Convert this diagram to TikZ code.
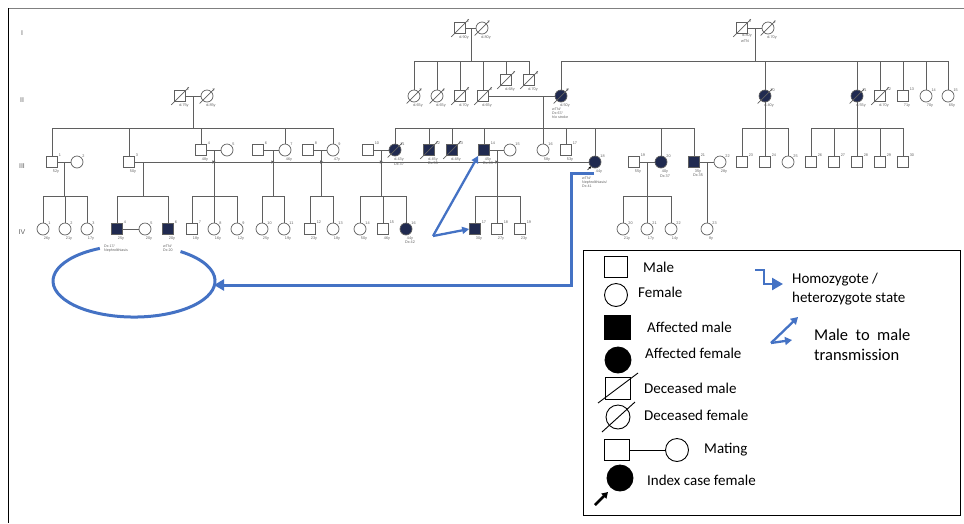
\documentclass[tikz,border=0pt]{standalone}
\usepackage{fontspec}
\setmainfont{Liberation Sans}
\newfontfamily\legfont{Carlito}
\usetikzlibrary{arrows.meta,calc}
\definecolor{affc}{RGB}{32,42,80}
\definecolor{pblue}{RGB}{68,114,196}
\definecolor{pline}{RGB}{95,95,95}
\tikzset{
 male/.style={rectangle, draw=pline, line width=0.7, minimum size=11, inner sep=0, fill=white},
 female/.style={circle, draw=pline, line width=0.7, minimum size=12, inner sep=0, fill=white},
 affected/.style={fill=affc},
 pl/.style={draw=pline, line width=0.7},
 numlbl/.style={font=\fontsize{3.8}{4}\selectfont, text=pline, inner sep=0},
 agelbl/.style={font=\fontsize{3.8}{4.3}\selectfont, text=pline, inner sep=0, align=center},
 extlbl/.style={font=\fontsize{3.6}{4}\selectfont, text=pline, inner sep=0, align=left, anchor=north west},
 genlbl/.style={font=\fontsize{7}{8}\selectfont, text=pline},
 bluearrow/.style={draw=pblue, line width=3, -{Triangle[length=10,width=11]}},
 bluethin/.style={draw=pblue, line width=2.3, -{Triangle[length=7,width=7]}},
 legtext/.style={font=\legfont\fontsize{15}{18}\selectfont, anchor=west, inner sep=0, align=left},
 legm/.style={rectangle, draw=black, line width=0.9, inner sep=0},
 legf/.style={circle, draw=black, line width=0.9, inner sep=0},
}
\newcommand{\person}[6]{%
 \node[#2] (#1) at (#3,#4) {};
 \node[numlbl, anchor=south west] at ($(#1.north east)+(0.8,0.5)$) {#5};
 \node[agelbl, anchor=north] at ($(#1.south)+(4,1.5)$) {#6};
}
\newcommand{\deceased}[1]{\draw[pl] ($(#1.south west)+(-3,3)$) -- ($(#1.north east)+(3,-3)$);}
\newcommand{\hopmark}[1]{\fill[pline] ($(#1)+(-1.6,-1.6)$) -- ($(#1)+(1.6,0)$) -- ($(#1)+(-1.6,1.6)$) -- cycle;}
\begin{document}
\begin{tikzpicture}[x=1pt,y=-1pt]
\useasboundingbox (0,0) rectangle (964,523);
\draw[gray, line width=1] (8,8) -- (964,8);
\draw[black, line width=1] (8,8) -- (8,523);

% generation labels
\node[genlbl] (gI) at (22,33) {I};
\node[genlbl] (gII) at (22,100) {II};
\node[genlbl] (gIII) at (22,166) {III};
\node[genlbl] (gIV) at (22,232) {IV};

% ---------------- Generation I
\person{I1}{male}{460}{28}{1}{d.90y}
\person{I2}{female}{482}{28}{2}{d.80y}
\node[agelbl, anchor=north] (I3a) at (747,33.5) {d.80y};
\node[agelbl, anchor=north] (I3b) at (745,40) {wTN};
\node[male] (I3) at (742,28) {};
\node[numlbl, anchor=south west] at ($(I3.north east)+(0.8,0.5)$) {3};
\person{I4}{female}{768}{28}{4}{d.70y}
\foreach \n in {I1,I2,I3,I4} {\deceased{\n}}

% ---------------- Generation II
\person{II1}{male}{180}{96}{1}{d.75y}
\person{II2}{female}{207}{96}{2}{d.85y}
\person{II3}{female}{414}{96}{3}{d.65y}
\person{II4}{female}{437}{96}{4}{d.65y}
\person{II5}{male}{460}{96}{5}{d.70y}
\person{II6}{male}{483}{96}{6}{d.65y}
\person{II7}{male}{506}{80}{7}{d.68y}
\person{II8}{male}{529}{80}{8}{d.70y}
\person{II9}{female,affected}{561}{96}{9}{d.50y}
\node[extlbl] (II9x) at (552,108) {wTN/\\Dx 67/\\h/o stroke};
\person{II10}{female,affected}{765}{96}{10}{d.40y}
\person{II11}{female,affected}{857}{96}{11}{d.55y}
\person{II12}{male}{880}{96}{12}{d.70y}
\person{II13}{male}{903}{96}{13}{71y}
\person{II14}{female}{926}{96}{14}{70y}
\person{II15}{female}{948}{96}{15}{65y}
\foreach \n in {II1,II2,II3,II4,II5,II6,II7,II8,II9,II10,II11,II12} {\deceased{\n}}

% ---------------- Generation III
\person{III1}{male}{52}{162}{1}{52y}
\person{III2}{female}{77}{162}{2}{}
\person{III3}{male}{129}{162}{3}{50y}
\person{III4}{male}{201}{150}{4}{48y}
\person{III5}{female}{227}{150}{5}{}
\person{III6}{male}{258}{150}{6}{}
\person{III7}{female}{285}{150}{7}{46y}
\person{III8}{male}{308}{150}{8}{}
\person{III9}{female}{333}{150}{9}{47y}
\person{III10}{male}{368}{150}{10}{}
\person{III11}{female,affected}{395}{150}{11}{d.43y\\Dx 37}
\person{III12}{male,affected}{429}{150}{12}{d.45y\\Dx 55}
\person{III13}{male,affected}{452}{150}{13}{d.48y}
\person{III14}{male,affected}{484}{150}{14}{45y\\Dx 63}
\person{III15}{female}{510}{150}{15}{}
\person{III16}{female}{543}{150}{16}{58y}
\person{III17}{male}{566}{150}{17}{53y}
\person{III18}{female,affected}{595}{162}{18}{44y}
\node[extlbl] (III18x) at (582,176.5) {wTN/\\Nephrolithiasis/\\Dx 41};
\person{III19}{male}{634}{162}{19}{55y}
\person{III20}{female,affected}{661}{162}{20}{40y\\Dx 37}
\person{III21}{male,affected}{694}{162}{21}{35y\\Dx 35}
\person{III22}{female}{720}{162}{22}{28y}
\person{III23}{male}{742}{162}{23}{}
\person{III24}{male}{765}{162}{24}{}
\person{III25}{female}{788}{162}{25}{}
\person{III26}{male}{811}{162}{26}{}
\person{III27}{male}{834}{162}{27}{}
\person{III28}{male}{857}{162}{28}{}
\person{III29}{male}{880}{162}{29}{}
\person{III30}{male}{903}{162}{30}{}
\foreach \n in {III11,III12,III13} {\deceased{\n}}
\draw[line width=0.6, -{Triangle[length=2.2,width=2.2]}] ($(III18.south west)+(-3,3.5)$) -- ($(III18.south west)+(0.5,0)$);

% ---------------- Generation IV
\person{IV1}{female}{43}{229}{1}{26y}
\person{IV2}{female}{65}{229}{2}{21y}
\person{IV3}{female}{87}{229}{3}{17y}
\person{IV4}{male,affected}{117}{229}{4}{25y}
\node[extlbl] (IV4x) at (104,244.5) {Dx 17/\\Nephrolithiasis};
\person{IV5}{female}{145}{229}{5}{20y}
\person{IV6}{male,affected}{168}{229}{6}{20y}
\node[extlbl] (IV6x) at (163,244.5) {wTN/\\Dx 20};
\person{IV7}{male}{192}{229}{7}{18y}
\person{IV8}{female}{214}{229}{8}{16y}
\person{IV9}{female}{237}{229}{9}{12y}
\person{IV10}{female}{262}{229}{10}{25y}
\person{IV11}{female}{284}{229}{11}{19y}
\person{IV12}{male}{310}{229}{12}{23y}
\person{IV13}{female}{333}{229}{13}{18y}
\person{IV14}{female}{360}{229}{14}{50y}
\person{IV15}{male}{383}{229}{15}{46y}
\person{IV16}{female,affected}{406}{229}{16}{44y\\Dx 42}
\person{IV17}{male,affected}{475}{229}{17}{30y}
\person{IV18}{male}{497}{229}{18}{27y}
\person{IV19}{male}{520}{229}{19}{23y}
\person{IV20}{female}{623}{229}{20}{21y}
\person{IV21}{female}{647}{229}{21}{17y}
\person{IV22}{female}{671}{229}{22}{14y}
\person{IV23}{female}{707}{229}{23}{8y}

% ---------------- lines: generation I -> II
\draw[pl] (I1) -- (I2);
\coordinate (mI1) at ($(I1)!0.5!(I2)$);
\draw[pl] (mI1) -- (mI1 |- 0,61);
\draw[pl] (II3 |- 0,61) -- (II8 |- 0,61);
\foreach \n in {II3,II4,II5,II6,II7,II8} {\draw[pl] (\n |- 0,61) -- (\n.north);}
\draw[pl] (I3) -- (I4);
\coordinate (mI2) at ($(I3)!0.5!(I4)$);
\draw[pl] (mI2) -- (mI2 |- 0,61);
\draw[pl] (II9 |- 0,61) -- (II15 |- 0,61);
\foreach \n in {II9,II10,II11,II12,II13,II14,II15} {\draw[pl] (\n |- 0,61) -- (\n.north);}

% ---------------- lines: generation II -> III
\draw[pl] (II1) -- (II2);
\coordinate (mII1) at ($(II1)!0.5!(II2)$);
\draw[pl] (mII1) -- (mII1 |- 0,128);
\draw[pl] (III1 |- 0,128) -- (III9 |- 0,128);
\foreach \n in {III1,III3,III4,III7,III9} {\draw[pl] (\n |- 0,128) -- (\n.north);}
\draw[pl] (II6) -- (II9);
\coordinate (mII2) at (543,96);
\draw[pl] (mII2) -- (mII2 |- 0,128);
\draw[pl] (III11 |- 0,128) -- (III21 |- 0,128);
\foreach \n in {III11,III12,III13,III14,III16,III17,III18,III20,III21} {\draw[pl] (\n |- 0,128) -- (\n.north);}
\draw[pl] (II10.south) -- (II10 |- 0,128);
\draw[pl] (III23 |- 0,128) -- (III25 |- 0,128);
\foreach \n in {III23,III24,III25} {\draw[pl] (\n |- 0,128) -- (\n.north);}
\draw[pl] (II11.south) -- (II11 |- 0,128);
\draw[pl] (III26 |- 0,128) -- (III30 |- 0,128);
\foreach \n in {III26,III27,III28,III29,III30} {\draw[pl] (\n |- 0,128) -- (\n.north);}

% ---------------- lines: generation III -> IV
\draw[pl] (III1) -- (III2);
\coordinate (mIII1) at ($(III1)!0.5!(III2)$);
\draw[pl] (mIII1) -- (mIII1 |- 0,196);
\draw[pl] (IV1 |- 0,196) -- (IV3 |- 0,196);
\foreach \n in {IV1,IV2,IV3} {\draw[pl] (\n |- 0,196) -- (\n.north);}

\draw[pl] (III3) -- (III18);
\coordinate (mIII2) at (143,162);
\draw[pl] (mIII2) -- (mIII2 |- 0,196);
\draw[pl] (IV4 |- 0,196) -- (IV6 |- 0,196);
\foreach \n in {IV4,IV6} {\draw[pl] (\n |- 0,196) -- (\n.north);}
\draw[pl] (IV4) -- (IV5);

\draw[pl] (III4) -- (III5);
\coordinate (mIII3) at ($(III4)!0.5!(III5)$);
\draw[pl] (mIII3) -- (mIII3 |- 0,196);
\draw[pl] (IV7 |- 0,196) -- (IV9 |- 0,196);
\foreach \n in {IV7,IV8,IV9} {\draw[pl] (\n |- 0,196) -- (\n.north);}

\draw[pl] (III6) -- (III7);
\coordinate (mIII4) at ($(III6)!0.55!(III7)$);
\draw[pl] (mIII4) -- (mIII4 |- 0,196);
\draw[pl] (IV10 |- 0,196) -- (IV11 |- 0,196);
\foreach \n in {IV10,IV11} {\draw[pl] (\n |- 0,196) -- (\n.north);}

\draw[pl] (III8) -- (III9);
\coordinate (mIII5) at ($(III8)!0.55!(III9)$);
\draw[pl] (mIII5) -- (mIII5 |- 0,196);
\draw[pl] (IV12 |- 0,196) -- (IV13 |- 0,196);
\foreach \n in {IV12,IV13} {\draw[pl] (\n |- 0,196) -- (\n.north);}

\draw[pl] (III10) -- (III11);
\coordinate (mIII6) at ($(III10)!0.5!(III11)$);
\draw[pl] (mIII6) -- (mIII6 |- 0,196);
\draw[pl] (IV14 |- 0,196) -- (IV16 |- 0,196);
\foreach \n in {IV14,IV15,IV16} {\draw[pl] (\n |- 0,196) -- (\n.north);}

\draw[pl] (III14) -- (III15);
\coordinate (mIII7) at ($(III14)!0.5!(III15)$);
\draw[pl] (mIII7) -- (mIII7 |- 0,196);
\draw[pl] (IV17 |- 0,196) -- (IV19 |- 0,196);
\foreach \n in {IV17,IV18,IV19} {\draw[pl] (\n |- 0,196) -- (\n.north);}

\draw[pl] (III19) -- (III20);
\coordinate (mIII8) at (647,162);
\draw[pl] (mIII8) -- (mIII8 |- 0,196);
\draw[pl] (IV20 |- 0,196) -- (IV22 |- 0,196);
\foreach \n in {IV20,IV21,IV22} {\draw[pl] (\n |- 0,196) -- (\n.north);}

\draw[pl] (III21) -- (III22);
\coordinate (mIII9) at (IV23 |- III22);
\draw[pl] (mIII9) -- (IV23.north);

% crossing marks on the long mating line
\foreach \n in {mIII3,mIII4,mIII5,mIII6,mIII7} {\coordinate (h) at (\n |- 0,162); \hopmark{h}}

% ---------------- blue annotations
\draw[draw=pblue, line width=3] (99.8,248.4) arc[start angle=245, end angle=-55, x radius=81, y radius=36];
\coordinate (bA) at (594,173);
\coordinate (bB) at (571,173);
\coordinate (bC) at (571,285);
\coordinate (bD) at (214,285);
\draw[bluearrow] (bA) -- (bB) -- (bC) -- (bD);
\coordinate (mm) at (433,236);
\draw[bluethin] (mm) -- (III14.south west);
\draw[bluethin] (mm) -- (IV17.west);

% ---------------- legend
\node[draw=black, line width=1, minimum width=377, minimum height=265, inner sep=0] (leg) at (771.5,382.5) {};
\node[legm, minimum width=23, minimum height=21] (lm) at (616,267) {};
\node[legtext] (lmt) at (643,267) {Male};
\node[legf, minimum size=23] (lf) at (616,295) {};
\node[legtext] (lft) at (638,292) {Female};
\node[legm, fill=black, minimum width=26, minimum height=24] (lam) at (617,327) {};
\node[legtext] (lamt) at (647,327) {Affected male};
\node[legf, fill=black, minimum size=26] (laf) at (618,360) {};
\node[legtext] (laft) at (645,353) {Affected female};
\node[legm, minimum width=25, minimum height=22] (ldm) at (618,388) {};
\draw[line width=0.9] (598,403) -- (638,373);
\node[legtext] (ldmt) at (644,388) {Deceased male};
\node[legf, minimum size=24] (ldf) at (618,417) {};
\draw[line width=0.9] (602,432) -- (635,402);
\node[legtext] (ldft) at (644,415) {Deceased female};
\node[legm, minimum width=25, minimum height=21] (lmm) at (617,450) {};
\node[legf, minimum size=23] (lmf) at (677,450) {};
\draw[line width=0.9] (lmm) -- (lmf);
\node[legtext] (lmt2) at (704,450) {Mating};
\node[legf, fill=black, minimum size=26] (lic) at (620,478) {};
\coordinate (lia) at (595,505);
\draw[line width=2.5, -{Triangle[length=6,width=7]}] (lia) -- (608,492);
\node[legtext] (lict) at (647,480) {Index case female};
\coordinate (h1) at (755,270);
\coordinate (h2) at (764,270);
\coordinate (h3) at (764,284);
\coordinate (h4) at (783,284);
\draw[draw=pblue, line width=2.5, -{Triangle[length=11,width=12]}] (h1) -- (h2) -- (h3) -- (h4);
\node[legtext] (lht) at (792,280) {Homozygote /};
\node[legtext] (lht2) at (792,299) {heterozygote state};
\coordinate (t0) at (771,343);
\draw[draw=pblue, line width=2.3, -{Triangle[length=7,width=8]}] (t0) -- (798,317);
\draw[draw=pblue, line width=2.3, -{Triangle[length=7,width=8]}] (t0) -- (792,340);
\node[legtext, font=\legfont\fontsize{16.5}{19}\selectfont] (ltt) at (814,335) {Male \ to \ male};
\node[legtext, font=\legfont\fontsize{16.5}{19}\selectfont] (ltt2) at (814,355) {transmission};
\end{tikzpicture}
\end{document}
